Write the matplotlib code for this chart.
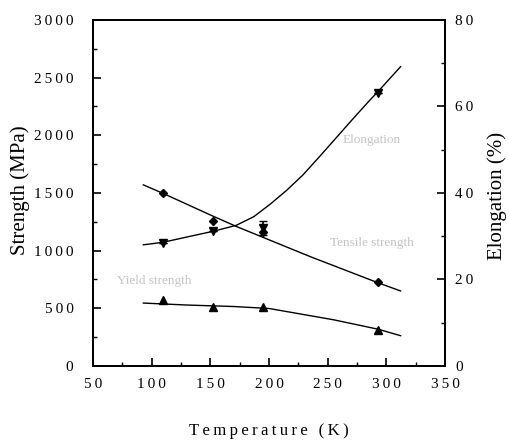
import matplotlib
matplotlib.use("Agg")
import matplotlib.pyplot as plt
from matplotlib.ticker import MultipleLocator, FuncFormatter

plt.rcParams["font.family"] = ["Liberation Serif", "DejaVu Serif"]

# measured points
temp_pts = [110, 152, 195, 293]
tensile_pts = [1500, 1258, 1160, 728]
yield_pts = [572, 514, 509, 312]
elong_pts = [28.4, 31.1, 31.8, 63.0]
elong_err = [0, 0, 1.6, 0]

# fitted curves
tensile_fit_t = [93, 110, 152, 172, 235, 293, 312]
tensile_fit_v = [1570, 1495, 1300, 1210, 948, 720, 650]
yield_fit_t = [93, 130, 170, 200, 255, 293, 312]
yield_fit_v = [545, 528, 515, 498, 400, 318, 262]
elong_fit_t = [93, 110, 130, 152, 172, 187, 201, 215, 229, 243, 258, 272, 286, 293, 312]
elong_fit_v = [28.0, 28.6, 29.8, 31.1, 32.5, 34.5, 37.4, 40.6, 44.2, 48.4, 53.0, 57.3, 61.5, 63.5, 69.2]

TS = "\u2009"


def spaced(s):
    return TS.join(s)


fig = plt.figure(figsize=(5.1, 4.43), dpi=100)
ax = fig.add_axes([0.182, 0.174, 0.691, 0.781])
ax2 = ax.twinx()

ax.plot(tensile_fit_t, tensile_fit_v, color="black", lw=1)
ax.plot(yield_fit_t, yield_fit_v, color="black", lw=1)
ax.plot(temp_pts, tensile_pts, ls="none", marker="D", ms=4.5, color="black")
ax.plot(temp_pts, yield_pts, ls="none", marker="^", ms=6, color="black")

ax2.plot(elong_fit_t, elong_fit_v, color="black", lw=1)
ax2.errorbar(temp_pts, elong_pts, yerr=elong_err, ls="none", marker="v", ms=6,
             color="black", capsize=3, elinewidth=1.2)

ax.set_xlim(50, 350)
ax.set_ylim(0, 3000)
ax2.set_ylim(0, 80)

ax.xaxis.set_major_locator(MultipleLocator(50))
ax.xaxis.set_minor_locator(MultipleLocator(25))
ax.yaxis.set_major_locator(MultipleLocator(500))
ax.yaxis.set_minor_locator(MultipleLocator(250))
ax2.yaxis.set_major_locator(MultipleLocator(20))
ax2.yaxis.set_minor_locator(MultipleLocator(10))

fmt = FuncFormatter(lambda v, p: spaced("%d" % v))
ax.xaxis.set_major_formatter(fmt)
ax.yaxis.set_major_formatter(fmt)
ax2.yaxis.set_major_formatter(fmt)

ax.tick_params(axis="both", which="both", direction="in", top=False, right=False)
ax.tick_params(which="major", length=6, width=1.2, labelsize=11)
ax.tick_params(axis="x", which="major", pad=9)
ax.tick_params(axis="y", which="major", pad=14)
ax.tick_params(which="minor", length=3, width=1)
ax2.tick_params(axis="y", which="both", direction="in")
ax2.tick_params(which="major", length=6, width=1.2, labelsize=11, pad=7)
ax2.tick_params(which="minor", length=3, width=1)

for a in (ax, ax2):
    for s in a.spines.values():
        s.set_linewidth(1.3)

# axis titles placed directly in figure coordinates
fig.text(0.527, 0.027, spaced("Temperature (K)"), fontsize=12, ha="center", va="center")
fig.text(0.039, 0.571, "Strength (MPa)", fontsize=15, rotation=90, ha="center", va="center")
fig.text(0.975, 0.558, "Elongation (%)", fontsize=15, rotation=90, ha="center", va="center")

lab = dict(fontsize=9.5, color="#c4c4c4", va="center")
ax.text(263, 1960, "Elongation", **lab)
ax.text(252, 1067, "Tensile strength", **lab)
ax.text(70.5, 737, "Yield strength", **lab)

fig.savefig("out.png", dpi=100)
